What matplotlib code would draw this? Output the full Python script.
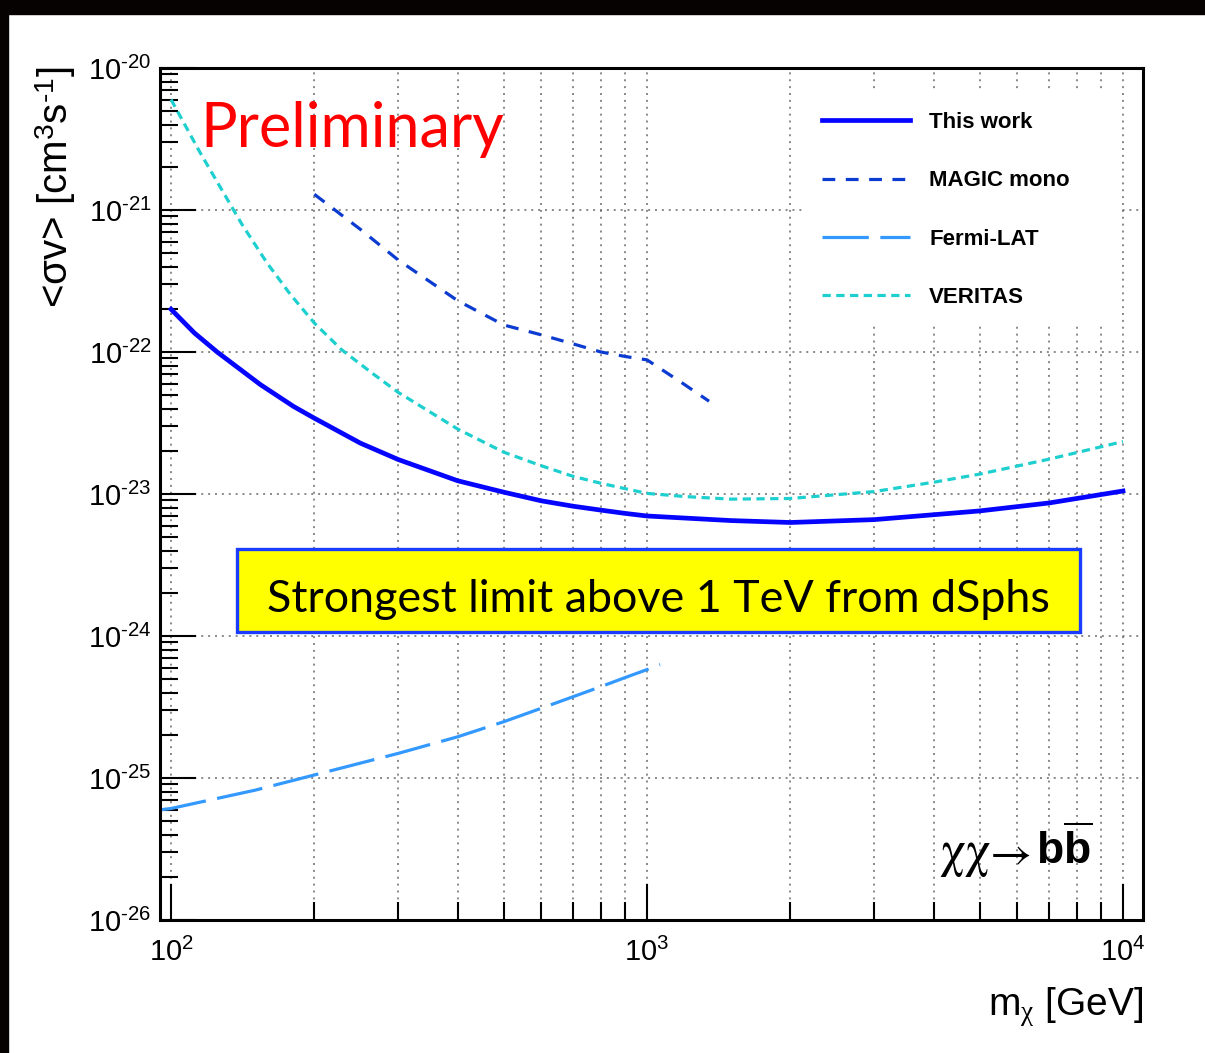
import numpy as np
import matplotlib
matplotlib.use('Agg')
import matplotlib.pyplot as plt
from matplotlib.patches import Rectangle
from matplotlib.ticker import LogLocator, NullFormatter, FixedLocator, FuncFormatter

# upper limits on <sigma v> for chi chi -> b bbar, mass in GeV
mass_this = [100, 112, 125, 154, 181, 200, 250, 300, 400, 500, 600, 700, 800, 900, 1000, 1500, 2000, 3000,
             5000, 7000, 10000]
sv_this = [2.0e-22, 1.36e-22, 1.0e-22, 5.9e-23, 4.13e-23, 3.42e-23, 2.28e-23, 1.75e-23, 1.24e-23, 1.03e-23,
           8.95e-24, 8.2e-24, 7.7e-24, 7.3e-24, 7.0e-24, 6.5e-24, 6.3e-24, 6.6e-24, 7.6e-24, 8.65e-24, 1.05e-23]

mass_magic = [200, 250, 300, 400, 500, 600, 700, 800, 900, 1000, 1190, 1350]
sv_magic = [1.29e-21, 7.3e-22, 4.45e-22, 2.3e-22, 1.55e-22, 1.32e-22, 1.14e-22, 1.0e-22, 9.3e-23, 8.8e-23,
            6.0e-23, 4.5e-23]

mass_fermi = [95, 100, 150, 200, 300, 400, 500, 600, 700, 800, 900, 1000, 1065]
sv_fermi = [5.97e-26, 6.1e-26, 8.2e-26, 1.05e-25, 1.49e-25, 1.95e-25, 2.49e-25, 3.1e-25, 3.74e-25, 4.4e-25,
            5.1e-25, 5.8e-25, 6.3e-25]

mass_veritas = [100, 115, 127, 141, 159, 178, 200, 228, 266, 300, 400, 500, 600, 700, 800, 900, 1000, 1200,
                1500, 2000, 3000, 4000, 5000, 7000, 10000]
sv_veritas = [6.0e-21, 2.55e-21, 1.44e-21, 7.9e-22, 4.25e-22, 2.55e-22, 1.6e-22, 1.04e-22, 7.0e-23, 5.2e-23,
              2.87e-23, 1.97e-23, 1.58e-23, 1.33e-23, 1.19e-23, 1.09e-23, 1.01e-23, 9.6e-24, 9.2e-24, 9.3e-24,
              1.04e-23, 1.21e-23, 1.38e-23, 1.76e-23, 2.34e-23]

labels = ['This work', 'MAGIC mono', 'Fermi-LAT', 'VERITAS']
y_decades = [-26, -25, -24, -23, -22, -21, -20]
x_decades = [2, 3, 4]

plt.rcParams['font.family'] = ['Liberation Sans', 'DejaVu Sans']
plt.rcParams['mathtext.fontset'] = 'custom'
plt.rcParams['mathtext.rm'] = 'Liberation Sans'
plt.rcParams['mathtext.it'] = 'Liberation Serif'
plt.rcParams['mathtext.bf'] = 'Liberation Sans:bold'
plt.rcParams['axes.unicode_minus'] = False

W, H = 1205, 1053
fig = plt.figure(figsize=(W / 100, H / 100), dpi=100)

# dark slide edge at top and left
fig.patches.append(Rectangle((0, 1 - 14 / H), 1, 14 / H, transform=fig.transFigure, color='#070202', zorder=0))
fig.patches.append(Rectangle((0, 0), 8 / W, 1, transform=fig.transFigure, color='#070202', zorder=0))

ax = fig.add_axes([160 / W, (H - 920) / H, 983 / W, 852 / H])
ax.set_xscale('log')
ax.set_yscale('log')
ax.set_xlim(94.8, 11016)
ax.set_ylim(1e-26, 1e-20)

ax.plot(mass_this, sv_this, color='#0505ff', lw=3.4, label=labels[0], zorder=5)
ax.plot(mass_magic, sv_magic, color='#0b3bd0', lw=2.3, ls=(0, (4.0, 3.3)), label=labels[1], zorder=5)
ax.plot(mass_fermi, sv_fermi, color='#3399ff', lw=2.3, ls=(0, (14.5, 3.6)), label=labels[2], zorder=5)
ax.plot(mass_veritas, sv_veritas, color='#1ecfcf', lw=2.3, ls=(0, (2.6, 1.7)), label=labels[3], zorder=5)


def pow10(v, pos):
    e = int(round(np.log10(v)))
    if e < 0:
        return r'$\mathdefault{10^{\text{-}%d}}$' % (-e)
    return r'$\mathdefault{10^{%d}}$' % e


# axes, ticks, grid
for s in ax.spines.values():
    s.set_linewidth(2.2)
    s.set_zorder(6)
ax.yaxis.set_major_locator(FixedLocator([10.0 ** e for e in y_decades]))
ax.xaxis.set_major_locator(FixedLocator([10.0 ** e for e in x_decades]))
ax.yaxis.set_major_formatter(FuncFormatter(pow10))
ax.xaxis.set_major_formatter(FuncFormatter(pow10))
ax.yaxis.set_minor_locator(LogLocator(base=10, subs=np.arange(2, 10), numticks=100))
ax.xaxis.set_minor_locator(LogLocator(base=10, subs=np.arange(2, 10), numticks=100))
ax.xaxis.set_minor_formatter(NullFormatter())
ax.yaxis.set_minor_formatter(NullFormatter())
ax.tick_params(which='major', direction='in', length=26, width=1.5, top=False, right=False, labelsize=21)
ax.tick_params(which='minor', direction='in', length=13, width=1.5, top=False, right=False)
ax.tick_params(axis='x', which='major', pad=13)
ax.tick_params(axis='y', which='major', pad=6)
grid_style = dict(color='#6a6a6a', lw=1.1, ls=(0, (1.3, 3.2)), zorder=0)
ax.grid(axis='x', which='both', **grid_style)
ax.grid(axis='y', which='major', **grid_style)
ax.set_axisbelow(True)

fig.text(56 / W, 1 - 66 / H, r'<σv> [cm$^{3}$s$^{\text{-}1}$]', rotation=90, ha='center', va='top', fontsize=29)
fig.text(1143 / W, 1 - 1015 / H, r'm$_{\chi}$ [GeV]', ha='right', va='baseline', fontsize=28)

# legend on a white patch hiding the grid
ax.add_patch(Rectangle((0.654, 0.702), 0.323, 0.272, transform=ax.transAxes, facecolor='white',
                       edgecolor='none', zorder=2))
leg = ax.legend(loc='upper left', bbox_to_anchor=((822 - 160) / 983, (920 - 112) / 852), frameon=False,
                prop={'weight': 'bold', 'size': 16}, handlelength=3.96, handletextpad=0.86,
                labelspacing=1.68, borderpad=0, borderaxespad=0)
leg.set_zorder(7)

fig.text(200 / W, 1 - 147 / H, 'Preliminary', color='#ff0000', fontsize=44, family='Lato',
         ha='left', va='baseline')

# highlighted statement
ax.add_patch(Rectangle((0.0783, 0.338), 0.8576, 0.0974, transform=ax.transAxes, facecolor='#ffff00',
                       edgecolor='#1a3cff', lw=2.4, zorder=4))
ax.text(0.5066, 0.3615, 'Strongest limit above 1 TeV from dSphs', transform=ax.transAxes, fontsize=32.3,
        family='Lato', ha='center', va='baseline', zorder=8)

# annihilation channel
fig.text(939 / W, 1 - 866 / H, 'χχ', family='STIXGeneral', fontsize=37, ha='left', va='baseline')
fig.text(990 / W, 1 - 866 / H, '→', family='STIXGeneral', fontsize=33, ha='left', va='baseline')
fig.text(1036 / W, 1 - 864 / H, r'$\mathbf{b}\overline{\mathbf{b}}$', fontsize=32, ha='left', va='baseline')

fig.savefig('out.png', dpi=100)
